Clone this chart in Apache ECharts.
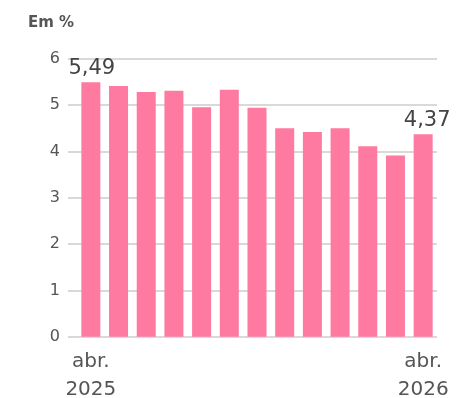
<!DOCTYPE html>
<html>
<head>
<meta charset="utf-8">
<script src="https://cdn.jsdelivr.net/npm/echarts@6/dist/echarts.min.js"></script>
<style>
  html, body { margin: 0; padding: 0; background: #fff; }
  #chart { width: 459px; height: 398px; }
</style>
</head>
<body>
<div id="chart"></div>
<script>
// Monthly rate, April 2025 to April 2026 (in %)
const months = ['abr.\n2025', 'mai.', 'jun.', 'jul.', 'ago.', 'set.', 'out.', 'nov.', 'dez.', 'jan.', 'fev.', 'mar.', 'abr.\n2026'];
const values = [5.49, 5.41, 5.28, 5.31, 4.95, 5.33, 4.94, 4.50, 4.42, 4.50, 4.11, 3.91, 4.37];
const yTicks = [0, 1, 2, 3, 4, 5, 6];

const last = values.length - 1;
const fmt = v => v.toFixed(2).replace('.', ',');

const chart = echarts.init(document.getElementById('chart'), null, { renderer: 'canvas' });

chart.setOption({
  animation: false,
  textStyle: { fontFamily: 'DejaVu Sans' },
  graphic: [{
    type: 'text',
    left: 28,
    top: 16,
    style: { text: 'Em %', fontSize: 15, fontWeight: 'bold', fill: '#555', fontFamily: 'DejaVu Sans' }
  }],
  grid: { left: 77, right: 22, top: 58.7, bottom: 61.3, containLabel: false, outerBoundsMode: 'none' },
  xAxis: {
    type: 'category',
    data: months,
    boundaryGap: true,
    axisLine: { show: false },
    axisTick: { show: false },
    axisLabel: {
      interval: (i) => i === 0 || i === last,
      color: '#555',
      fontSize: 20,
      lineHeight: 28,
      margin: 11,
      formatter: (v, i) => (i === 0 || i === last) ? v : ''
    }
  },
  yAxis: {
    type: 'value',
    min: yTicks[0],
    max: yTicks[yTicks.length - 1],
    interval: 1,
    axisLine: { show: false },
    axisTick: { show: true, length: 9, lineStyle: { color: '#cccccc', width: 1.5 } },
    axisLabel: { color: '#555', fontSize: 16, margin: 17 },
    splitLine: { lineStyle: { color: '#cccccc', width: 1.5 } }
  },
  series: [{
    type: 'bar',
    barWidth: 19,
    itemStyle: { color: '#ff7aa0' },
    data: values.map((v, i) => ({
      value: v,
      label: {
        show: i === 0 || i === last,
        position: 'top',
        distance: 3,
        offset: i === last ? [4, 0] : [1, 0],
        fontSize: 21,
        color: '#444',
        formatter: p => fmt(p.value)
      }
    }))
  }]
});
</script>
</body>
</html>
